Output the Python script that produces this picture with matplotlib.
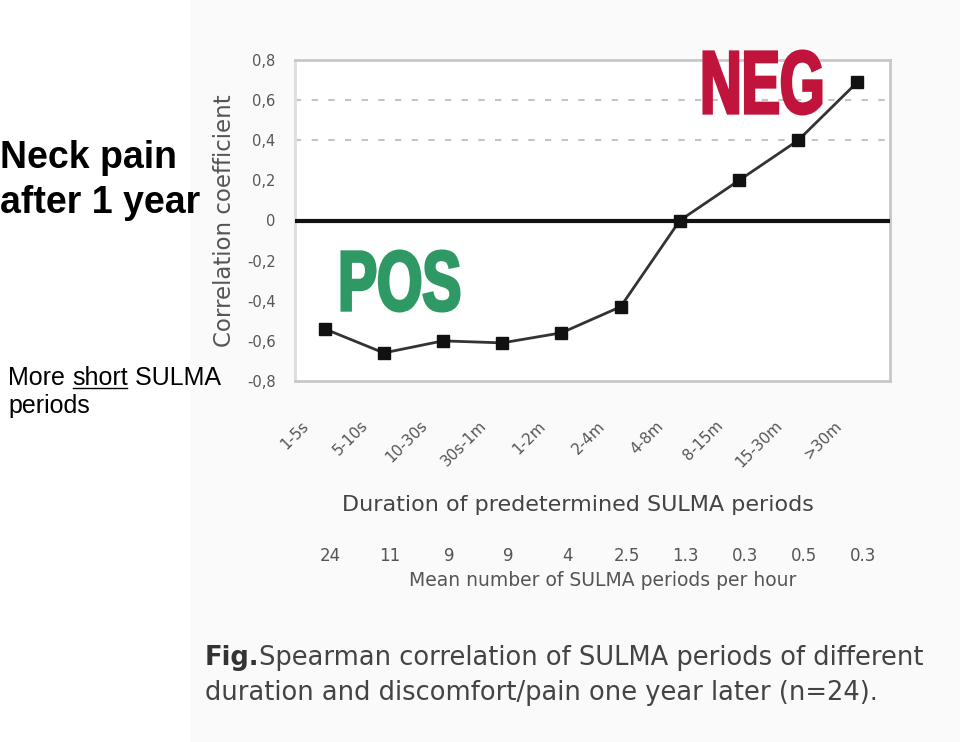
import matplotlib
matplotlib.use("Agg")
import matplotlib.pyplot as plt
from matplotlib.textpath import TextPath
from matplotlib.font_manager import FontProperties
from matplotlib.patches import PathPatch, Rectangle
from matplotlib.transforms import Affine2D, blended_transform_factory

W, H = 960, 742

durations = ["1-5s", "5-10s", "10-30s", "30s-1m", "1-2m",
             "2-4m", "4-8m", "8-15m", "15-30m", ">30m"]
corr = [-0.54, -0.66, -0.60, -0.61, -0.56, -0.43, 0.0, 0.20, 0.40, 0.69]
mean_per_hour = ["24", "11", "9", "9", "4", "2.5", "1.3", "0.3", "0.5", "0.3"]
y_ticks = [0.8, 0.6, 0.4, 0.2, 0.0, -0.2, -0.4, -0.6, -0.8]
y_labels = ["0,8", "0,6", "0,4", "0,2", "0", "-0,2", "-0,4", "-0,6", "-0,8"]

SCAN = "#555555"


def fx(px):
    return px / W


def fy(py):
    return 1 - py / H


def boxed_word(fig, s, x0, y0, x1, y1, color):
    """Squeeze a bold word into a pixel box (scanned poster look)."""
    tp = TextPath((0, 0), s, size=100,
                  prop=FontProperties(family="Liberation Sans", weight="bold"))
    ext = tp.get_extents()
    sx = (fx(x1) - fx(x0)) / ext.width
    sy = (fy(y0) - fy(y1)) / ext.height
    tr = (Affine2D().translate(-ext.x0, -ext.y0).scale(sx, sy)
          .translate(fx(x0), fy(y1)))
    fig.add_artist(PathPatch(tr.transform_path(tp), facecolor=color,
                             edgecolor=color, lw=2.2, joinstyle="miter",
                             transform=fig.transFigure, zorder=5))


fig = plt.figure(figsize=(W / 100, H / 100), dpi=100)
fig.patch.set_facecolor("white")
fig.add_artist(Rectangle((fx(190), 0), 1 - fx(190), 1, transform=fig.transFigure,
                         facecolor="#fafafa", edgecolor="none", zorder=-10))

ax = fig.add_axes([fx(295), fy(381), fx(890) - fx(295), fy(60) - fy(381)])
ax.set_facecolor("white")
x = list(range(len(durations)))
ax.plot(x, corr, color="#333333", lw=2, marker="s", ms=9,
        mfc="#111111", mec="#111111", zorder=4)
ax.axhline(0, color="#111111", lw=3, zorder=3)
for g in (0.6, 0.4):
    ax.axhline(g, color="#c4c4c4", lw=1.5, ls=(0, (3, 5)), zorder=1)

ax.set_xlim(-0.5, 9.55)
ax.set_ylim(-0.8, 0.8)
ax.set_yticks(y_ticks)
ax.set_yticklabels(y_labels, color=SCAN, fontsize=10.5)
ax.set_xticks([])
ax.tick_params(axis="y", length=0, pad=14)
for sp in ax.spines.values():
    sp.set_color("#c8c8c8")
    sp.set_linewidth(2)
ax.spines["left"].set_color("#dddddd")

ax.set_ylabel("Correlation coefficient", color=SCAN, fontsize=16.5, labelpad=8)

trans = blended_transform_factory(ax.transData, fig.transFigure)
for xi, lab in zip(x, durations):
    ax.text(xi - 0.4, fy(418), lab, transform=trans, rotation=45,
            rotation_mode="anchor", ha="right", va="top",
            color=SCAN, fontsize=11)
for xi, lab in zip(x, mean_per_hour):
    ax.text(xi + 0.1, fy(556), lab, transform=trans, ha="center",
            va="center", color=SCAN, fontsize=12)

fig.text(fx(578), fy(505), "Duration of predetermined SULMA periods",
         ha="center", va="center", color="#444444", fontsize=16)
fig.text(fx(603), fy(581), "Mean number of SULMA periods per hour",
         ha="center", va="center", color="#555555", fontsize=13.5)

fig.text(fx(205), fy(658), "Fig.", ha="left", va="center",
         color="#333333", fontsize=18.5, fontweight="bold")
fig.text(fx(259), fy(658), "Spearman correlation of SULMA periods of different",
         ha="left", va="center", color="#444444", fontsize=18.5)
fig.text(fx(205), fy(693), "duration and discomfort/pain one year later (n=24).",
         ha="left", va="center", color="#444444", fontsize=18.5)

boxed_word(fig, "NEG", 704, 51, 821, 114, "#c0143c")
boxed_word(fig, "POS", 342, 251, 459, 311, "#2e9964")

fig.text(0.0, fy(158), "Neck pain", ha="left", va="center",
         fontsize=27, fontweight="bold", family="Liberation Sans")
fig.text(0.0, fy(203), "after 1 year", ha="left", va="center",
         fontsize=27, fontweight="bold", family="Liberation Sans")

renderer = fig.canvas.get_renderer()
parts = ["More ", "short", " SULMA"]
xpos = fx(8)
for p in parts:
    t = fig.text(xpos, fy(378), p, ha="left", va="center", fontsize=18,
                 family="Liberation Sans")
    bb = t.get_window_extent(renderer).transformed(fig.transFigure.inverted())
    if p == "short":
        fig.add_artist(plt.Line2D([bb.x0 + fx(1), bb.x1 - fx(1)],
                                  [fy(388), fy(388)], color="black", lw=1,
                                  transform=fig.transFigure))
    xpos = bb.x1
fig.text(fx(8), fy(406), "periods", ha="left", va="center", fontsize=18,
         family="Liberation Sans")

fig.savefig("out.png", dpi=100)
